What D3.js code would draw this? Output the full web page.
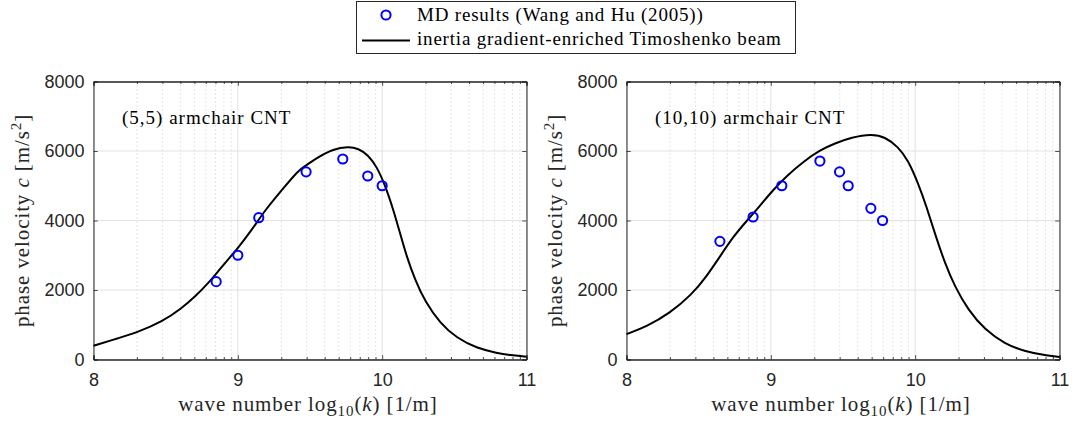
<!DOCTYPE html>
<html>
<head>
<meta charset="utf-8">
<script src="https://cdn.jsdelivr.net/npm/d3@7"></script>
<style>
  body { margin: 0; background: #fff; }
  svg { display: block; }
</style>
</head>
<body>
<div id="chart"></div>
<script>
const width = 1075;
const height = 427;

// log10(k) and phase velocity
const md55X = [8.85, 9.0, 9.145, 9.473, 9.727, 9.9, 10.0];
const md55Y = [2240, 3000, 4080, 5400, 5770, 5280, 5000];
const beam55X = [8.0, 8.173, 8.30, 8.478, 8.612, 8.704, 8.796, 8.889, 9.0, 9.097, 9.189, 9.305, 9.42, 9.473, 9.547, 9.662, 9.766, 9.835, 9.904, 9.963, 10.02, 10.078, 10.124, 10.17, 10.228, 10.297, 10.401, 10.517, 10.655, 10.794, 10.909, 11.0];
const beam55Y = [394, 615, 776, 1092, 1477, 1810, 2195, 2672, 3201, 3727, 4302, 4876, 5450, 5580, 5800, 6060, 6125, 6075, 5882, 5546, 5020, 4302, 3632, 2960, 2290, 1667, 1046, 615, 328, 184, 115, 80];

const md1010X = [8.647, 8.877, 9.076, 9.34, 9.476, 9.536, 9.693, 9.774];
const md1010Y = [3400, 4100, 5000, 5710, 5400, 5000, 4350, 4000];
const beam1010X = [8.0, 8.139, 8.30, 8.45, 8.554, 8.647, 8.739, 8.831, 8.924, 9.016, 9.109, 9.224, 9.34, 9.443, 9.559, 9.698, 9.79, 9.882, 9.951, 10.021, 10.079, 10.136, 10.206, 10.275, 10.367, 10.483, 10.621, 10.76, 10.921, 11.0];
const beam1010Y = [730, 948, 1333, 1859, 2385, 2960, 3534, 3980, 4420, 4880, 5280, 5690, 6026, 6218, 6391, 6490, 6408, 6121, 5739, 5069, 4397, 3632, 2770, 2098, 1428, 853, 451, 230, 106, 75];

const yTicks = [0, 2000, 4000, 6000, 8000];
const xDecades = [8, 9, 10, 11];
const panelTitles = ["(5,5) armchair CNT", "(10,10) armchair CNT"];
const legendLabels = ["MD results (Wang and Hu (2005))", "inertia gradient-enriched Timoshenko beam"];

const axisColor = "#262626";
const serif = "'Liberation Serif', 'DejaVu Serif', serif";
const sans = "'Liberation Sans', Arial, sans-serif";

const plotTop = 81.5, plotBottom = 359.5;
const panels = [
  {left: 93.5, right: 526.5, title: panelTitles[0], mdX: md55X, mdY: md55Y, bx: beam55X, by: beam55Y},
  {left: 626.5, right: 1059.5, title: panelTitles[1], mdX: md1010X, mdY: md1010Y, bx: beam1010X, by: beam1010Y}
];

const svg = d3.select("#chart").append("svg")
  .attr("width", width)
  .attr("height", height)
  .attr("viewBox", "0 0 " + width + " " + height);

panels.forEach(function(p) {
  let x = d3.scaleLog().domain([1e8, 1e11]).range([p.left, p.right]);
  let y = d3.scaleLinear().domain([0, 8000]).range([plotBottom, plotTop]);
  let g = svg.append("g");

  // minor (dotted) and major grid
  let minor = x.ticks().filter(function(v) { return xDecades.indexOf(Math.round(Math.log10(v) * 1000) / 1000) < 0; });
  g.selectAll(".minor").data(minor).enter().append("line")
    .attr("x1", function(d) { return x(d); }).attr("x2", function(d) { return x(d); })
    .attr("y1", plotTop).attr("y2", plotBottom)
    .attr("stroke", "#c4c4c4").attr("stroke-width", 0.8).attr("stroke-dasharray", "1,3");
  g.selectAll(".vmajor").data(xDecades).enter().append("line")
    .attr("x1", function(d) { return x(Math.pow(10, d)); }).attr("x2", function(d) { return x(Math.pow(10, d)); })
    .attr("y1", plotTop).attr("y2", plotBottom)
    .attr("stroke", "#e2e2e2").attr("stroke-width", 1);
  g.selectAll(".hmajor").data(yTicks).enter().append("line")
    .attr("x1", p.left).attr("x2", p.right)
    .attr("y1", function(d) { return y(d); }).attr("y2", function(d) { return y(d); })
    .attr("stroke", "#e2e2e2").attr("stroke-width", 1);

  // axes with inward ticks
  let xAxis = d3.axisBottom(x).tickValues(xDecades.map(function(d) { return Math.pow(10, d); }))
    .tickSize(-4.3).tickFormat(function(d) { return Math.round(Math.log10(d)); });
  let gx = g.append("g").attr("transform", "translate(0," + plotBottom + ")").call(xAxis);
  gx.selectAll(".tick text").attr("y", 26.5).attr("dy", 0);
  let gxTop = g.append("g").attr("transform", "translate(0," + plotTop + ")")
    .call(d3.axisTop(x).tickValues(xAxis.tickValues()).tickSize(-4.3).tickFormat(""));
  let minorB = g.append("g").attr("transform", "translate(0," + plotBottom + ")")
    .call(d3.axisBottom(x).tickValues(minor).tickSize(-2.5).tickFormat(""));
  let minorT = g.append("g").attr("transform", "translate(0," + plotTop + ")")
    .call(d3.axisTop(x).tickValues(minor).tickSize(-2.5).tickFormat(""));
  let gy = g.append("g").attr("transform", "translate(" + p.left + ",0)")
    .call(d3.axisLeft(y).tickValues(yTicks).tickSize(-4.3).tickPadding(9).tickFormat(d3.format("d")));
  let gyR = g.append("g").attr("transform", "translate(" + p.right + ",0)")
    .call(d3.axisRight(y).tickValues(yTicks).tickSize(-4.3).tickFormat(""));

  [gx, gxTop, minorB, minorT, gy, gyR].forEach(function(a) {
    a.select(".domain").attr("stroke", axisColor).attr("stroke-width", 1);
    a.selectAll(".tick line").attr("stroke", axisColor).attr("stroke-width", 0.8);
    a.selectAll("text").attr("fill", axisColor).style("font-family", sans).style("font-size", "18px");
  });

  // beam curve
  let line = d3.line()
    .x(function(d, i) { return x(Math.pow(10, p.bx[i])); })
    .y(function(d) { return y(d); })
    .curve(d3.curveBasis);
  g.append("path").datum(p.by)
    .attr("d", line)
    .attr("fill", "none").attr("stroke", "#000").attr("stroke-width", 2);

  // MD points
  g.selectAll(".md").data(p.mdY).enter().append("circle")
    .attr("cx", function(d, i) { return x(Math.pow(10, p.mdX[i])); })
    .attr("cy", function(d) { return y(d); })
    .attr("r", 4.6)
    .attr("fill", "none").attr("stroke", "#0000ff").attr("stroke-width", 2);

  // annotation
  g.append("text").attr("x", p.left + 28.5).attr("y", 123.5)
    .style("font-family", serif).style("font-size", "19px").style("letter-spacing", "1px")
    .attr("fill", "#000")
    .text(p.title);

  // axis labels
  let xl = g.append("text").attr("x", (p.left + p.right) / 2 - 2).attr("y", 411)
    .attr("text-anchor", "middle").attr("fill", axisColor)
    .style("font-family", serif).style("font-size", "21px").style("letter-spacing", "0.9px");
  xl.append("tspan").text("wave number log");
  xl.append("tspan").text("10").attr("font-size", "15px").attr("dy", 5);
  xl.append("tspan").text("(").attr("dy", -5);
  xl.append("tspan").text("k").attr("font-style", "italic");
  xl.append("tspan").text(") [1/m]");

  let yl = g.append("text")
    .attr("transform", "translate(" + (p.left - 65) + "," + ((plotTop + plotBottom) / 2) + ") rotate(-90)")
    .attr("text-anchor", "middle").attr("fill", axisColor)
    .style("font-family", serif).style("font-size", "21px").style("letter-spacing", "0.9px");
  yl.append("tspan").text("phase velocity ");
  yl.append("tspan").text("c").attr("font-style", "italic");
  yl.append("tspan").text(" [m/s");
  yl.append("tspan").text("2").attr("font-size", "15px").attr("dy", -8);
  yl.append("tspan").text("]").attr("dy", 8);
});

// legend
const legend = svg.append("g");
legend.append("rect").attr("x", 356.5).attr("y", 1.5).attr("width", 439).attr("height", 52)
  .attr("fill", "#fff").attr("stroke", axisColor).attr("stroke-width", 1);
legend.append("circle").attr("cx", 386).attr("cy", 15).attr("r", 4.6)
  .attr("fill", "none").attr("stroke", "#0000ff").attr("stroke-width", 2);
legend.append("line").attr("x1", 362).attr("x2", 410).attr("y1", 40.5).attr("y2", 40.5)
  .attr("stroke", "#000").attr("stroke-width", 2);
legend.selectAll(".lt").data(legendLabels).enter().append("text")
  .attr("x", 417).attr("y", function(d, i) { return 20.5 + i * 24.5; })
  .style("font-family", serif).style("font-size", "19px").style("letter-spacing", "0.8px")
  .attr("fill", "#000")
  .text(function(d) { return d; });
</script>
</body>
</html>
